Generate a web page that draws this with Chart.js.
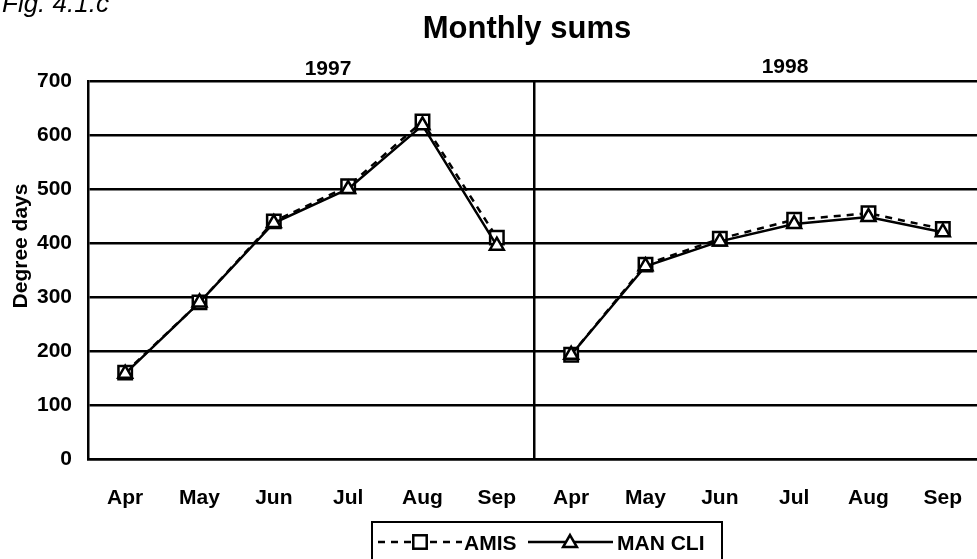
<!DOCTYPE html>
<html>
<head>
<meta charset="utf-8">
<script src="https://cdn.jsdelivr.net/npm/chart.js@4.4.0/dist/chart.umd.min.js"></script>
<style>
html, body { margin: 0; background: #fff; overflow: hidden; width: 977px; height: 559px; }
#wrap { width: 977px; height: 559px; overflow: hidden; position: relative; }
#chart { position: absolute; left: 0; top: 0; }
</style>
</head>
<body>
<div id="wrap"><canvas id="chart" width="984" height="559"></canvas></div>
<script>
var months = ["Apr", "May", "Jun", "Jul", "Aug", "Sep"];
var years = ["1997", "1998"];
var amis1997 = [160, 290, 440, 505, 625, 410];
var amis1998 = [193, 360, 408, 443, 455, 426];
var manCli1997 = [158, 290, 437, 500, 618, 395];
var manCli1998 = [193, 357, 403, 435, 448, 420];
var yTicks = [0, 100, 200, 300, 400, 500, 600, 700];

var FONT = 'Arial, "Liberation Sans", sans-serif';
var SQ_R = 9.5;
var TRI_R = 8;

function drawSquare(ctx, x, y) {
    var s = Math.SQRT1_2 * SQ_R;
    ctx.fillStyle = "#fff";
    ctx.fillRect(x - s, y - s, 2 * s, 2 * s);
    ctx.strokeRect(x - s, y - s, 2 * s, 2 * s);
}

function drawTriangle(ctx, x, y) {
    var rad = 0;
    ctx.beginPath();
    for (var i = 0; i < 3; i++) {
        var px = x + Math.sin(rad) * TRI_R;
        var py = y - Math.cos(rad) * TRI_R;
        if (i == 0) ctx.moveTo(px, py); else ctx.lineTo(px, py);
        rad += 2 * Math.PI / 3;
    }
    ctx.closePath();
    ctx.fillStyle = "#fff";
    ctx.fill();
    ctx.stroke();
}

// texts and the boxed legend
var extras = {
    id: "extras",
    afterDraw: function (chart) {
        var ctx = chart.ctx;
        ctx.save();
        ctx.fillStyle = "#000";
        ctx.textBaseline = "alphabetic";
        ctx.textAlign = "left";
        ctx.font = "italic 26px " + FONT;
        ctx.fillText("Fig. 4.1.c", 2, 12);

        ctx.textAlign = "center";
        ctx.font = "bold 31px " + FONT;
        ctx.fillText("Monthly sums", 527, 38);

        ctx.font = "bold 21px " + FONT;
        ctx.fillText(years[0], 328, 75);
        ctx.fillText(years[1], 785, 73);

        ctx.save();
        ctx.translate(27, 246);
        ctx.rotate(-Math.PI / 2);
        ctx.fillText("Degree days", 0, 0);
        ctx.restore();

        // legend
        ctx.strokeStyle = "#000";
        ctx.lineWidth = 2;
        ctx.strokeRect(372, 522, 350, 60);

        var ly = 542;
        ctx.lineWidth = 2.5;
        ctx.setLineDash([7, 6]);
        ctx.beginPath();
        ctx.moveTo(378, ly);
        ctx.lineTo(462, ly);
        ctx.stroke();
        ctx.setLineDash([]);
        drawSquare(ctx, 420, ly);

        ctx.beginPath();
        ctx.moveTo(528, ly);
        ctx.lineTo(613, ly);
        ctx.stroke();
        drawTriangle(ctx, 570, ly + 1);

        ctx.fillStyle = "#000";
        ctx.textAlign = "left";
        ctx.font = "bold 21px " + FONT;
        ctx.fillText("AMIS", 464, 550);
        ctx.fillText("MAN CLI", 617, 550);
        ctx.restore();
    }
};

function breakAtYear(ctx) {
    return ctx.p0DataIndex == months.length - 1 ? "rgba(0,0,0,0)" : undefined;
}

var chart = new Chart(document.getElementById("chart"), {
    type: "line",
    data: {
        labels: months.concat(months),
        datasets: [{
            label: "AMIS",
            data: amis1997.concat(amis1998),
            borderColor: "#000",
            borderWidth: 2.5,
            borderDash: [7, 6],
            pointStyle: "rect",
            pointRadius: SQ_R,
            pointBorderWidth: 2.5,
            pointBackgroundColor: "#fff",
            pointBorderColor: "#000",
            tension: 0,
            order: 2,
            segment: { borderColor: breakAtYear }
        }, {
            label: "MAN CLI",
            data: manCli1997.concat(manCli1998),
            borderColor: "#000",
            borderWidth: 2.5,
            pointStyle: "triangle",
            pointRadius: TRI_R,
            pointBorderWidth: 2.5,
            pointBackgroundColor: "#fff",
            pointBorderColor: "#000",
            tension: 0,
            order: 1,
            segment: { borderColor: breakAtYear }
        }]
    },
    options: {
        responsive: false,
        animation: false,
        layout: { autoPadding: false, padding: { top: 81, right: 4, bottom: 0, left: 0 } },
        plugins: {
            legend: { display: false },
            title: { display: false },
            tooltip: { enabled: false }
        },
        scales: {
            x: {
                offset: true,
                afterFit: function (scale) { scale.height = 100; },
                grid: {
                    offset: true,
                    drawTicks: false,
                    lineWidth: 2.5,
                    color: function (c) {
                        return c.type == "tick" && c.index == months.length ? "#000" : "rgba(0,0,0,0)";
                    }
                },
                border: { color: "#000", width: 2.5 },
                // tall line box pushes the month labels down without side padding
                ticks: { color: "#000", padding: 0, font: { family: FONT, size: 21, weight: "bold", lineHeight: "78px" } }
            },
            y: {
                min: yTicks[0],
                max: yTicks[yTicks.length - 1],
                afterFit: function (scale) { scale.width = 88; },
                grid: { drawTicks: false, color: "#000", lineWidth: 2.5 },
                border: { color: "#000", width: 2.5 },
                ticks: { stepSize: 100, color: "#000", padding: 16, font: { family: FONT, size: 21, weight: "bold" } }
            }
        }
    },
    plugins: [extras]
});
</script>
</body>
</html>
